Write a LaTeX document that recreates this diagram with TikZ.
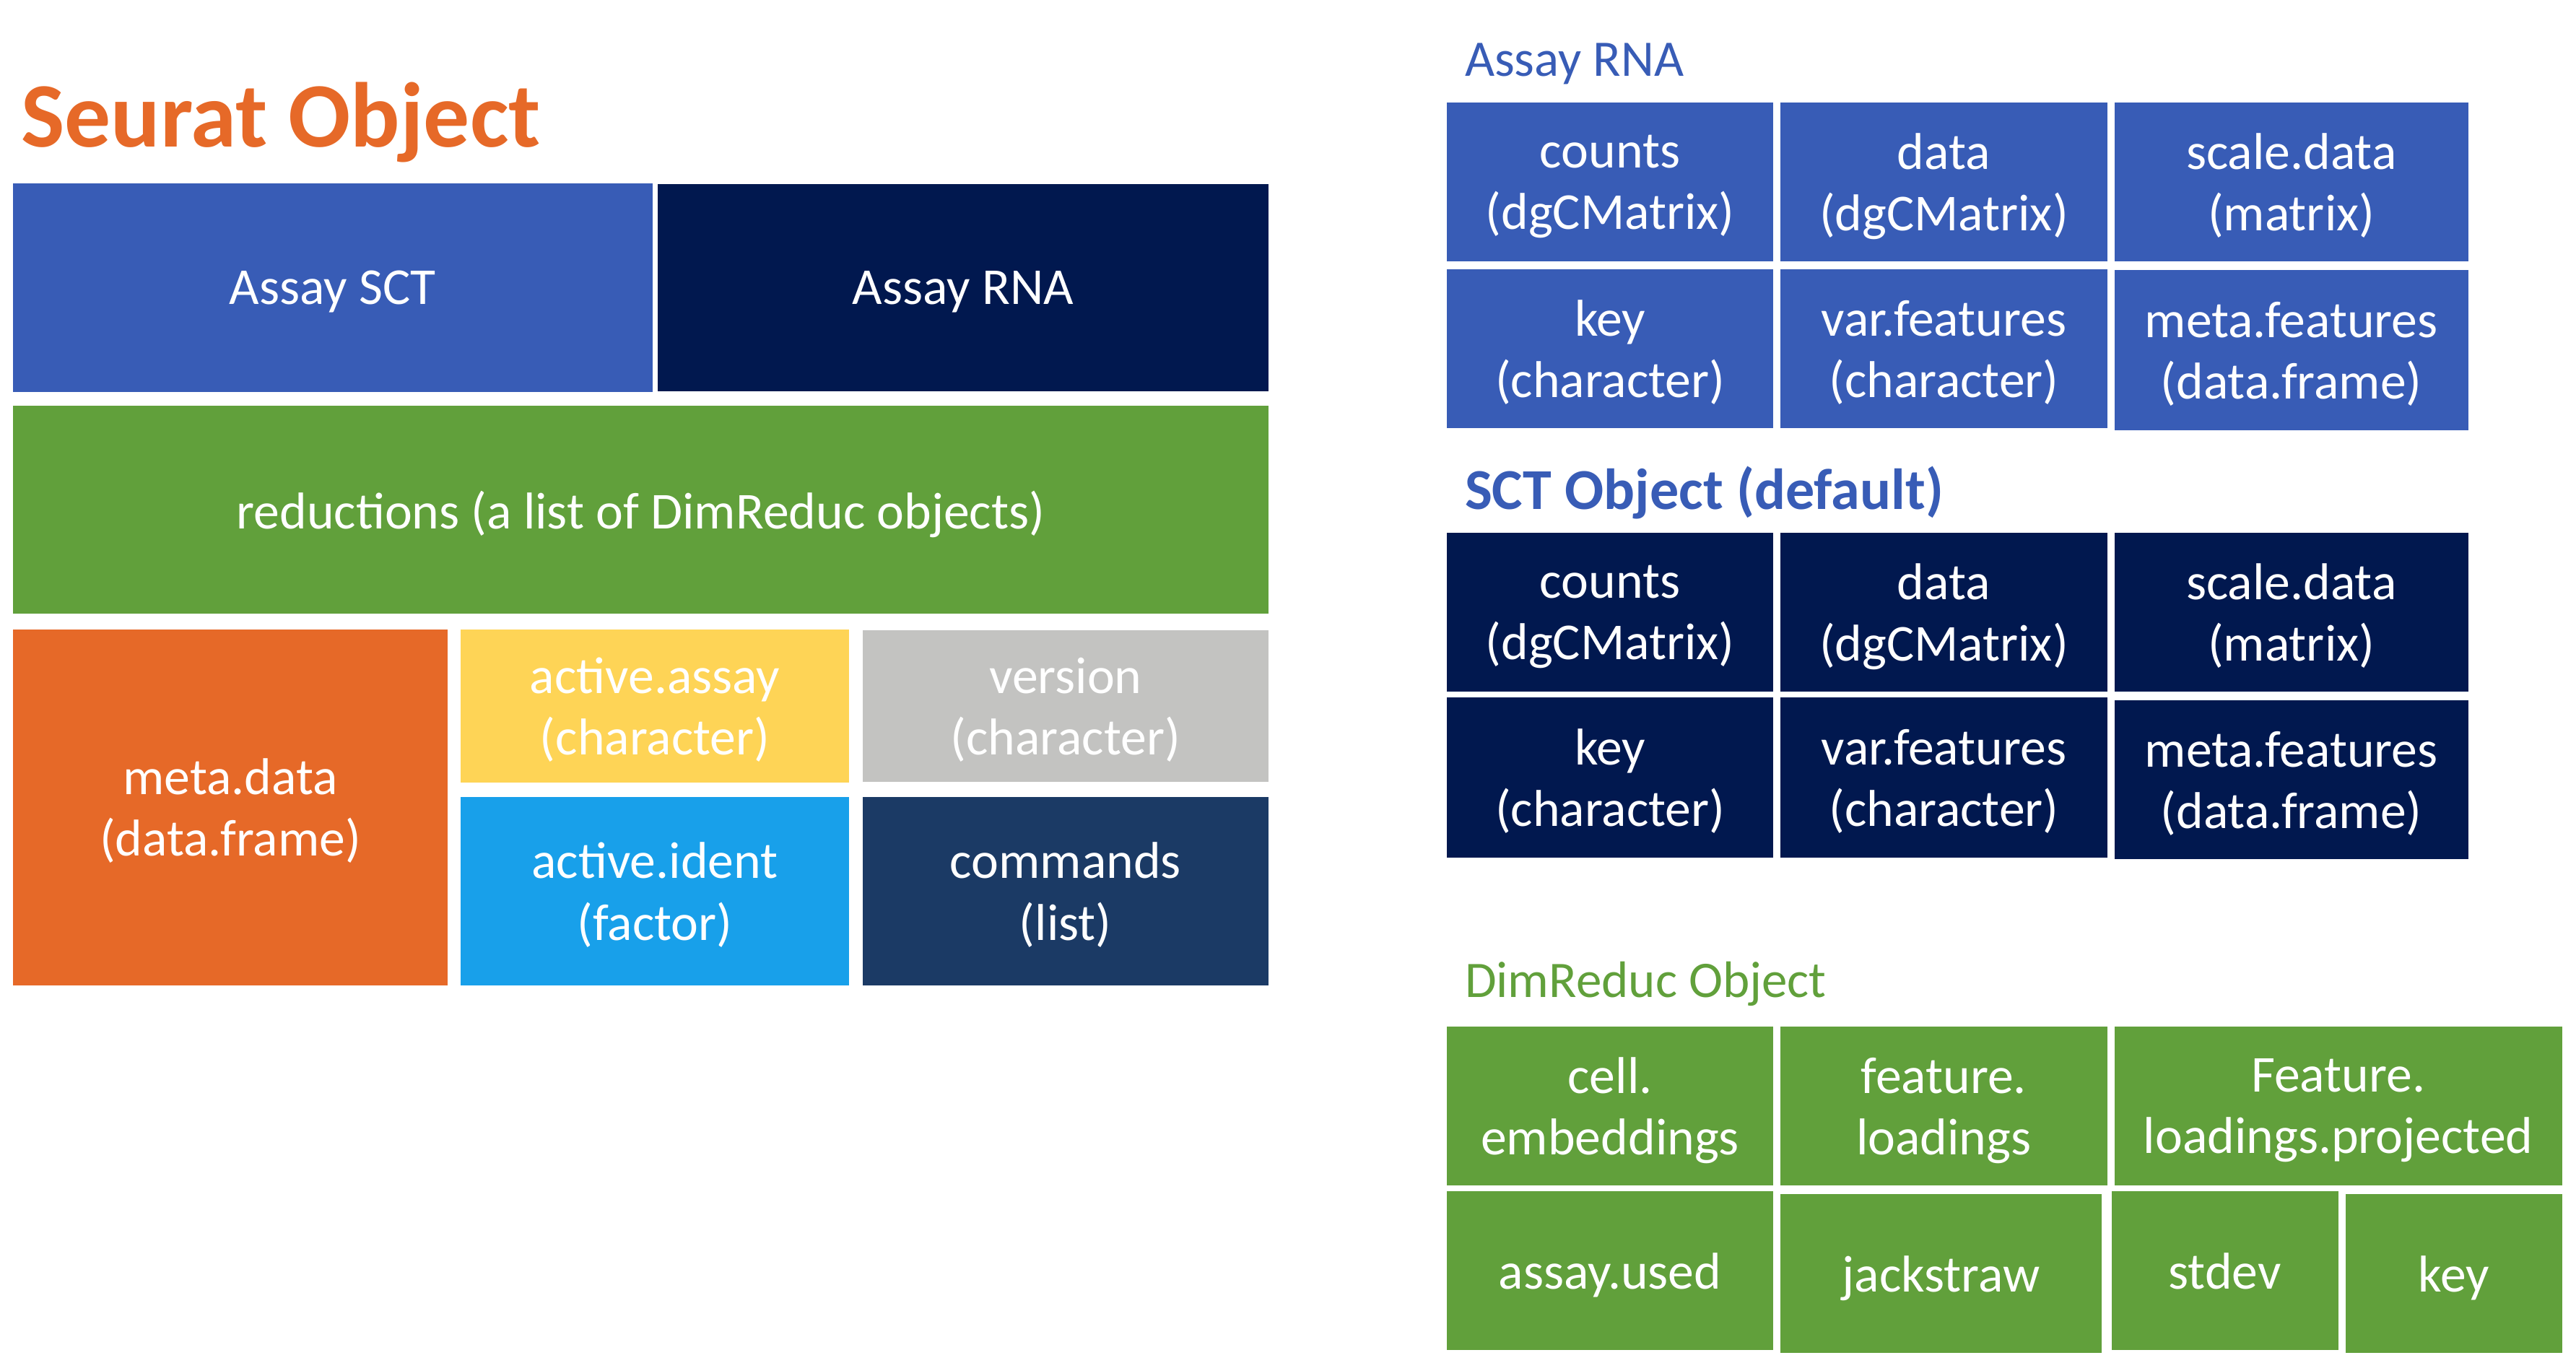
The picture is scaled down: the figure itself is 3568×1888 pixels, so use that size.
\documentclass[tikz,border=0pt]{standalone}
\usepackage{fontspec}
\setmainfont{Carlito}
\usepackage{tikz}
\usetikzlibrary{positioning}
\usepackage{xcolor}
\definecolor{AssayBlue}{RGB}{56,92,182}
\definecolor{NavyBlue}{RGB}{1,24,79}
\definecolor{ReducGreen}{RGB}{97,160,59}
\definecolor{MetaOrange}{RGB}{230,105,40}
\definecolor{SlotYellow}{RGB}{254,212,86}
\definecolor{SlotGrey}{RGB}{195,195,193}
\definecolor{IdentBlue}{RGB}{24,160,234}
\definecolor{CmdBlue}{RGB}{27,58,101}

\begin{document}
\begin{tikzpicture}[x=0.01cm, y=-0.01cm,
  every node/.style={inner sep=0pt, outer sep=0pt, align=center},
  cell/.style={text=white, text depth=0pt, font=\fontsize{20.4}{24.2}\selectfont},
  heading/.style={anchor=base west, font=\fontsize{20.2}{24}\selectfont}]
\useasboundingbox (0,0) rectangle (3568,1888);

% Seurat object
\node[heading, text=MetaOrange, font=\fontsize{36.3}{40}\selectfont\bfseries] (seurat) at (29,204) {Seurat Object};
\node[cell, fill=AssayBlue, minimum width=8.85cm, minimum height=2.89cm, anchor=north west] (sct) at (18,254) {Assay SCT};
\node[cell, fill=NavyBlue, minimum width=8.46cm, minimum height=2.87cm, right=0.07cm of sct] (rna) {Assay RNA};
\node[cell, fill=ReducGreen, minimum width=17.38cm, minimum height=2.88cm, below=0.19cm of sct.south west, anchor=north west] (reductions) {reductions (a list of DimReduc objects)};
\node[cell, fill=MetaOrange, minimum width=6.02cm, minimum height=4.92cm, below=0.22cm of reductions.south west, anchor=north west] (metadata) {meta.data\\(data.frame)};
\node[cell, fill=SlotYellow, minimum width=5.37cm, minimum height=2.12cm, right=0.18cm of metadata.north east, anchor=north west] (activeassay) {active.assay\\(character)};
\node[cell, fill=SlotGrey, minimum width=5.62cm, minimum height=2.10cm, right=0.19cm of activeassay] (version) {version\\(character)};
\node[cell, fill=IdentBlue, minimum width=5.37cm, minimum height=2.6cm, below=0.2cm of activeassay] (activeident) {active.ident\\(factor)};
\node[cell, fill=CmdBlue, minimum width=5.62cm, minimum height=2.6cm, right=0.19cm of activeident] (commands) {commands\\(list)};

% Assay RNA
\node[heading, text=AssayBlue] (rnatitle) at (2029,106) {Assay RNA};
\node[cell, fill=AssayBlue, minimum width=4.52cm, minimum height=2.2cm, anchor=north west] (rnacounts) at (2004,142) {counts\\(dgCMatrix)};
\node[cell, fill=AssayBlue, minimum width=4.52cm, minimum height=2.2cm, right=0.1cm of rnacounts] (rnadata) {data\\(dgCMatrix)};
\node[cell, fill=AssayBlue, minimum width=4.9cm, minimum height=2.2cm, right=0.1cm of rnadata] (rnascale) {scale.data\\(matrix)};
\node[cell, fill=AssayBlue, minimum width=4.52cm, minimum height=2.2cm, below=0.11cm of rnacounts] (rnakey) {key\\(character)};
\node[cell, fill=AssayBlue, minimum width=4.52cm, minimum height=2.2cm, right=0.1cm of rnakey] (rnavar) {var.features\\(character)};
\node[cell, fill=AssayBlue, minimum width=4.9cm, minimum height=2.22cm, below right=0.12cm and 0.1cm of rnadata.south east] (rnameta) {meta.features\\(data.frame)};

% SCT object
\node[heading, text=AssayBlue, font=\fontsize{22.8}{26}\selectfont\bfseries] (scttitle) at (2029,705) {SCT Object (default)};
\node[cell, fill=NavyBlue, minimum width=4.52cm, minimum height=2.2cm, anchor=north west] (sctcounts) at (2004,738) {counts\\(dgCMatrix)};
\node[cell, fill=NavyBlue, minimum width=4.52cm, minimum height=2.2cm, right=0.1cm of sctcounts] (sctdata) {data\\(dgCMatrix)};
\node[cell, fill=NavyBlue, minimum width=4.9cm, minimum height=2.2cm, right=0.1cm of sctdata] (sctscale) {scale.data\\(matrix)};
\node[cell, fill=NavyBlue, minimum width=4.52cm, minimum height=2.22cm, below=0.08cm of sctcounts] (sctkey) {key\\(character)};
\node[cell, fill=NavyBlue, minimum width=4.52cm, minimum height=2.22cm, right=0.1cm of sctkey] (sctvar) {var.features\\(character)};
\node[cell, fill=NavyBlue, minimum width=4.9cm, minimum height=2.2cm, below right=0.12cm and 0.1cm of sctdata.south east] (sctmeta) {meta.features\\(data.frame)};

% DimReduc object
\node[heading, text=ReducGreen] (dimtitle) at (2029,1381) {DimReduc Object};
\node[cell, fill=ReducGreen, minimum width=4.52cm, minimum height=2.2cm, anchor=north west] (dimcell) at (2004,1422) {cell.\\embeddings};
\node[cell, fill=ReducGreen, minimum width=4.52cm, minimum height=2.2cm, right=0.1cm of dimcell] (dimfeat) {feature.\\loadings};
\node[cell, fill=ReducGreen, minimum width=6.2cm, minimum height=2.2cm, right=0.1cm of dimfeat] (dimproj) {Feature.\\loadings.projected};
\node[cell, fill=ReducGreen, minimum width=4.52cm, minimum height=2.2cm, below=0.08cm of dimcell] (dimassay) {assay.used};
\node[cell, fill=ReducGreen, minimum width=4.44cm, minimum height=2.2cm, below right=0.04cm and 0.1cm of dimassay.north east] (dimjack) {jackstraw};
\node[cell, fill=ReducGreen, minimum width=3.14cm, minimum height=2.2cm, right=0.14cm of dimassay.north east, anchor=north west, xshift=4.54cm] (dimstdev) {stdev};
\node[cell, fill=ReducGreen, minimum width=3.0cm, minimum height=2.2cm, below right=0.04cm and 0.1cm of dimstdev.north east] (dimkey) {key};
\end{tikzpicture}
\end{document}
